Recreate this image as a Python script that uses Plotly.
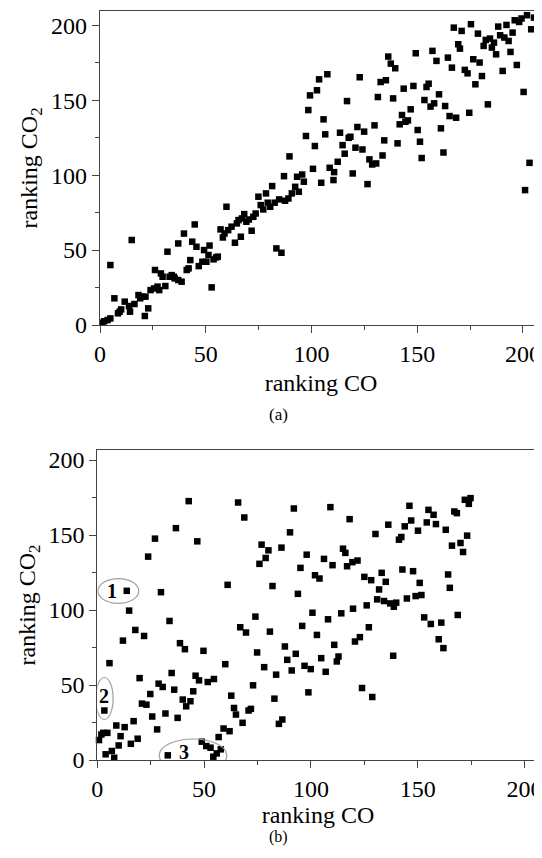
import plotly.graph_objects as go

# ---------------- data: panel (a) ----------------
co_a = [1.1, 2, 3.6, 4.9, 4.9, 6.8, 8.5, 9.3, 10, 11.7, 13.7, 15, 14.2, 16.3, 18.2, 19, 19.9, 21.2,
        22.8, 21.5, 23.9, 25.6, 26, 27.2, 28, 28.8, 29.6, 30.9, 31.9, 32.9, 33.9, 34.9, 35.3, 37, 37,
        38.6, 39.7, 41, 41.9, 42.7, 43.6, 44.8, 45.6, 46.7, 48.4, 49.2, 50.3, 51.3, 51.8, 52.8, 53.7,
        54.9, 55.7, 57, 58.1, 58.9, 59.8, 60.6, 62.2, 63.8, 64.7, 65.5, 66.6, 67.1, 68.2, 69.2, 70.4,
        71.7, 72.5, 73.6, 74.9, 76, 77.2, 78.5, 79.3, 80.5, 81.4, 82.6, 83.4, 85.8, 84.7, 87.5, 89.1,
        90.7, 92.3, 94, 96.4, 104.6, 110.4, 126.5, 201,
        87, 89.6, 93.2, 95.6, 97.4, 98.5, 99.3, 100.7, 101.6, 102.6, 103.6, 105.7, 106.5, 107.5, 108.6,
        110.7, 112.4, 113.5, 114.7, 115.7, 116.8, 117.6, 118.4, 119.5, 120.8, 121.7, 122.8, 124.1,
        124.9, 127.4, 128.7, 129.8, 130.6, 131.4, 132.7, 133.6, 134.4, 135.2, 136.3, 137.5, 138.6,
        139.6, 140.7, 141.7, 142.8, 143.6, 144.4, 145.6, 146.9, 148.2, 149.3, 150.2, 151.3, 152.1,
        153.4, 154.4, 155.4, 156.3, 157.2, 158, 159.1, 160.3, 161.2, 162.4, 163.2, 164.5, 165.3, 166.4,
        167.3, 168.4, 169.4, 170.2, 171, 172.5, 173.8, 174.6, 175.4, 176.5, 177.5, 178.7, 179.5, 180.6,
        181.4, 182.4, 183.4, 184.4, 185.3, 186.3, 187.3, 188.3, 189.2, 190.4, 191.2, 192.2, 193.2,
        194.1, 195.1, 196.1, 197.1, 198.2, 199.3, 200.3, 201.9, 203.1, 203.9, 205.2]
co2_a = [1.6, 2.5, 3.3, 4.4, 40, 17.8, 7.8, 8.9, 10.4, 15.6, 12.7, 56.7, 8.9, 14, 20, 17.8, 18.9, 6,
         11.1, 18.9, 23.3, 24.4, 36.7, 25.6, 23.3, 34.4, 32.2, 26, 48.9, 32.2, 33.3, 32.2, 31.1, 54.4, 30,
         28.9, 61, 36.7, 37.8, 43.3, 55.6, 67.1, 52.2, 39.3, 42.2, 50, 42.2, 46.7, 53, 25.1, 43.8,
         45.1, 45.6, 63.8, 58.4, 61.1, 78.9, 63.3, 65.6, 54.9, 67.8, 70, 58.9, 71.1, 74, 68.9, 70.4,
         62.9, 72.2, 74.4, 85.6, 80, 77.1, 87.8, 81.6, 78.9, 92.7, 81.6, 51.1, 48.2, 83.8, 82.9, 84.4,
         87.8, 92.2, 88.9, 95.6, 94.9, 96.7, 94, 90,
         99.3, 112.5, 98.9, 100.4, 126.1, 143.4, 153.2, 104.2, 119.4, 156.6, 163.9, 137.2, 127.2, 167.3, 104.9,
         102, 108.9, 128.3, 120, 114.3, 149.4, 124.9, 125.6, 101.1, 118.3, 132.1, 165.3, 117.1,
         129, 110.5, 107.1, 133.2, 107.8, 152.1, 162.1, 113.1, 123.2, 163.3, 179.1, 174.4, 151.2,
         171.3, 121.2, 133.9, 140.1, 157.7, 135.6, 136.5, 143.9, 159.5, 181.3, 130.1, 122.3, 111.4,
         150.1, 158.8, 161, 145.7, 182.9, 147.9, 176.2, 153.9, 131.2, 115.1, 146.1, 178.4, 139.4, 171.7,
         198.4, 138.3, 187.3, 184.4, 196.2, 170.2, 167.9, 141.6, 200.7, 177.3, 160.6, 194.4, 175.1, 166.1,
         186.2, 190.2, 147.2, 191.1, 185.1, 188.4, 180.6, 199.1, 193.3, 169.5, 191.8, 200.2, 189.5,
         182.2, 195.1, 203.3, 173.5, 202.2, 204.5, 155.5, 206.7, 108.2, 197.3, 205.1]

# ---------------- data: panel (b) ----------------
co_b = [13.8, 23.8, 27, 29.8, 36.8, 42.8, 46.8, 61, 65.9, 68.8, 75.9, 76.9, 78.8, 80.1, 82, 86.2, 90.2,
        92, 93.9, 95.1, 98, 101.9, 104, 106.1, 109.1, 110.1, 115, 116.1, 116.9, 118.1, 119.7, 119.4,
        121.8, 125, 126.1, 128.2, 130.2, 131, 131.9, 133.1, 134.2, 135, 136.2, 137.1, 138.8, 139.9,
        141.2, 142.3, 142.8, 143.9, 144.9, 146.1, 146.9, 147.8, 149, 150.1, 150.9, 151.7, 154.2, 155,
        157.4, 158.5, 163.1, 164.2, 165, 166, 167.1, 168.3, 170, 171.2, 172, 173.1, 173.9, 174.7,
        0.8, 1.9, 2.8, 4.7, 3.3, 3.9, 5.7, 6.8, 7.9, 8.9, 10, 10.9, 12, 12.8, 14.9, 15.7, 17, 17.8, 18.9,
        19.8, 20.9, 21.9, 23, 24.8, 25.7, 28, 28.7, 30.6, 31.9, 33, 33.8, 34.8, 36, 37.6, 38.7, 40, 41,
        41.6, 43.6, 44.9, 46, 47.6, 48.9, 49.7, 51, 51.7, 53, 54.3, 54.6, 55.9, 56.8, 57.8, 59.1, 59.9,
        61.9, 62.7, 64, 64.9, 66.9, 68, 69.6, 70.8, 71.9, 72.9, 74, 74.8, 78.1, 80.8, 82.9, 83.7, 85,
        86.6, 87.8, 88.9, 91, 92.9, 95.9, 97, 98.8, 99.9, 100.7, 102.8, 104.8, 106.9, 108, 110.9, 112.1,
        112.9, 114.2, 120.6, 122.9, 123.9, 127.1, 128.7, 138.5, 153, 156.1, 161, 159.8, 162, 168.7]
co2_b = [112.8, 135.6, 147.6, 111.9, 154.6, 172.6, 145.8, 116.8, 171.7, 161.7, 130.8, 143.6, 134.7, 139.8,
         116, 141.6, 151.8, 167.7, 110.8, 128.1, 136.9, 123.2, 121, 134.1, 168.6, 129.9, 140.9, 138.1,
         129.2, 160.6, 100.9, 131.9, 133, 122.1, 103.1, 119.9, 150.7, 107.1, 113.7, 124.8, 106, 118.8,
         156.9, 104.4, 102.2, 104.9, 146.9, 148.7, 127, 155.8, 107.7, 169.5, 159.7, 125.9, 109.3, 152.9,
         118.1, 110, 158.4, 166.8, 163.5, 157.3, 153.5, 123.7, 114.8, 142.9, 165.7, 164.6, 144.7, 138.7,
         173.5, 149.6, 170.8, 174.6,
         13.3, 17, 18.1, 18.1, 33, 3.8, 64.6, 6, 1.5, 23, 9.7, 15.9, 79.6, 21.9, 99.6, 10.8, 25.9, 86.7,
         14.2, 54.6, 37.6, 82.7, 36.9, 44, 29, 20.4, 50.9, 48.7, 31, 3.1, 92.7, 58, 46.9, 28.1, 77.9, 40.3,
         73.9, 35.8, 39.2, 45.8, 56.2, 53.1, 12.2, 72.8, 9.3, 52, 8.2, 2.2, 54, 4.4, 15.3, 7.1, 21, 63.9,
         19.2, 42.9, 34.7, 30.3, 88.5, 24.8, 85, 33, 34.1, 49.8, 95.6, 71.7, 61.9, 85.6, 40.9, 56.9, 24.1,
         27, 75.7, 66.8, 59.7, 70.8, 89.4, 62.8, 45.1, 60.6, 98.2, 83.4, 67.9, 58.8, 93.8, 76.8, 65.7,
         69, 97.8, 79, 81.9, 48, 88.5, 42, 69.5, 95.1, 90.7, 91.6, 80.5, 74.6, 96.7]

tick_vals = [0, 50, 100, 150, 200]
tick_text = ["0", "50", "100", "150", "200"]
x_title = "ranking CO"
y_title = "ranking CO<sub>2</sub>"
captions = ["(a)", "(b)"]
group_labels = ["1", "2", "3"]

# the page body adds an 8px margin, so the figure is made 8px smaller and
# all page-pixel positions are shifted by that offset
OFF = 8
W, H = 542 - OFF, 858 - OFF
FONT = "Liberation Serif, Times New Roman, serif"
AX = "#444444"

def fx(px):
    return (px - OFF) / W

def fy(py):
    return (H - (py - OFF)) / H

marker = dict(symbol="square", size=6.5, color="black", line=dict(width=0))

fig = go.Figure()
fig.add_trace(go.Scatter(x=co_a, y=co2_a, mode="markers", marker=marker,
                         xaxis="x", yaxis="y", cliponaxis=False, showlegend=False))
fig.add_trace(go.Scatter(x=co_b, y=co2_b, mode="markers", marker=marker,
                         xaxis="x2", yaxis="y2", cliponaxis=False, showlegend=False))

def axis_common(**kw):
    d = dict(showgrid=False, zeroline=False, showline=True, linecolor=AX, linewidth=1.2,
             ticks="outside", ticklen=7, tickwidth=1, tickcolor=AX, automargin=False,
             tickvals=tick_vals, ticktext=tick_text, ticklabeloverflow="allow",
             tickfont=dict(family=FONT, size=24, color="black"),
             minor=dict(ticks="outside", ticklen=4, tickwidth=1, tickcolor=AX, dtick=25, tick0=0),
             title_font=dict(family=FONT, size=24, color="black"))
    d.update(kw)
    return d

fig.update_layout(
    width=W, height=H, paper_bgcolor="white", plot_bgcolor="white",
    margin=dict(l=0, r=0, t=0, b=0),
    xaxis=axis_common(domain=[fx(100), 1.0], range=[0, 209], anchor="y", mirror=True,
                      title=dict(text=x_title, standoff=8)),
    yaxis=axis_common(domain=[fy(325), fy(11)], range=[0, 209.5], anchor="x", mirror=False,
                      title=dict(text=y_title, standoff=6)),
    xaxis2=axis_common(domain=[fx(97.3), fx(538.7)], range=[0, 206.6], anchor="y2", mirror=True,
                       title=dict(text=x_title, standoff=2)),
    yaxis2=axis_common(domain=[fy(760), fy(450)], range=[0, 206.7], anchor="x2", mirror=True,
                       title=dict(text=y_title, standoff=6)),
)

# captions
fig.add_annotation(text=captions[0], x=fx(278), y=fy(414), xref="paper", yref="paper",
                   showarrow=False, font=dict(family=FONT, size=17, color="black"))
fig.add_annotation(text=captions[1], x=fx(278), y=fy(848), xref="paper", yref="paper",
                   showarrow=False, font=dict(family=FONT, size=16, color="black"))

# ellipses and group labels on panel (b)
ell = dict(type="circle", xref="x2", yref="y2", line=dict(color="#a0a0a0", width=1.2),
           fillcolor="rgba(0,0,0,0)", layer="above")
fig.add_shape(x0=0.3, x1=19.4, y0=104.5, y1=121, **ell)
fig.add_shape(x0=-0.8, x1=7.4, y0=27, y1=55, **ell)
fig.add_shape(x0=29, x1=60.6, y0=-8, y1=14, **ell)

lab = dict(xref="x2", yref="y2", showarrow=False,
           font=dict(family=FONT, size=20, color="black"))
fig.add_annotation(text="<b>%s</b>" % group_labels[0], x=6.9, y=112.5, **lab)
fig.add_annotation(text="<b>%s</b>" % group_labels[1], x=3.2, y=43, **lab)
fig.add_annotation(text="<b>%s</b>" % group_labels[2], x=40.8, y=5.5, **lab)

fig.write_html("out.html")
